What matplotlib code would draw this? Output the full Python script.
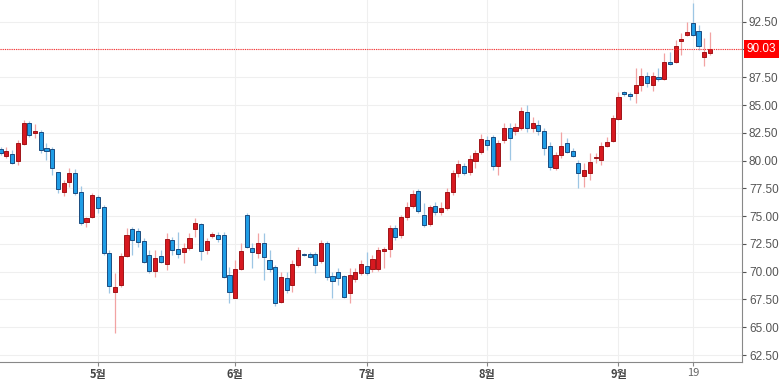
import numpy as np
import matplotlib
matplotlib.use("Agg")
import matplotlib.pyplot as plt

plt.rcParams['font.family'] = ['Liberation Sans', 'Noto Sans CJK KR', 'DejaVu Sans']

# daily candles (open, high, low, close)
opens = [81.05, 80.45, 80.55, 79.95, 81.5, 83.35, 82.45, 82.55, 81.1, 81.0,
         78.95, 77.2, 78.05, 78.85, 77.15, 74.45, 74.95, 76.7, 75.85, 71.65,
         68.2, 68.8, 71.45, 73.8, 73.7, 72.8, 71.5, 70.05, 71.4, 70.7,
         72.85, 72.0, 71.75, 72.15, 73.85, 74.3, 71.95, 73.2, 73.3, 73.3,
         69.7, 67.65, 70.2, 75.1, 72.1, 71.65, 72.6, 71.05, 70.4, 67.3,
         69.4, 68.8, 70.6, 71.6, 71.55, 71.55, 70.95, 72.55, 69.6, 69.95,
         69.6, 68.1, 69.3, 69.9, 70.5, 70.2, 70.25, 71.9, 72.0, 73.95,
         73.3, 74.9, 75.9, 77.25, 75.1, 74.3, 75.95, 75.4, 75.75, 77.15,
         78.9, 79.5, 79.0, 80.0, 80.75, 81.85, 82.1, 79.55, 81.85, 82.9,
         82.65, 82.95, 84.4, 82.9, 83.2, 82.65, 81.35, 79.35, 80.5, 81.55,
         80.9, 79.75, 78.65, 78.9, 80.2, 80.05, 81.3, 81.8, 83.75, 86.15,
         86.0, 86.1, 86.8, 87.6, 86.8, 87.55, 87.35, 88.85, 88.85, 90.8,
         91.3, 92.35, 91.65, 89.35, 89.7]
highs = [81.2, 81.25, 80.95, 81.85, 83.65, 83.6, 83.3, 82.75, 81.55, 81.25,
         79.0, 78.25, 79.3, 79.2, 77.7, 74.95, 77.05, 76.9, 76.0, 71.95,
         69.85, 71.65, 73.9, 74.05, 73.9, 73.0, 71.95, 71.95, 71.95, 73.45,
         73.15, 73.6, 72.55, 73.45, 74.8, 74.35, 73.0, 73.55, 73.6, 73.6,
         70.45, 71.05, 72.55, 75.25, 72.55, 73.45, 73.45, 71.95, 70.6, 70.0,
         70.0, 71.05, 72.2, 71.7, 71.8, 71.8, 72.85, 72.75, 70.0, 70.3,
         69.7, 70.3, 70.3, 71.05, 71.8, 71.5, 72.2, 72.2, 74.2, 74.2,
         75.1, 76.3, 77.35, 77.4, 76.15, 76.0, 76.3, 76.3, 77.5, 79.15,
         80.05, 79.8, 80.5, 80.95, 82.35, 82.25, 82.3, 81.85, 83.35, 83.35,
         83.35, 84.85, 85.0, 83.95, 83.65, 82.9, 81.7, 80.8, 82.6, 82.0,
         81.1, 80.05, 79.75, 80.65, 80.65, 81.7, 82.1, 84.1, 86.2, 86.3,
         86.2, 88.3, 88.3, 88.0, 88.0, 88.3, 89.65, 89.8, 90.85, 91.45,
         92.5, 94.15, 92.2, 91.0, 91.55]
lows = [80.5, 80.2, 79.7, 79.6, 81.4, 82.15, 82.0, 80.7, 80.05, 78.7,
        77.05, 76.8, 77.65, 76.9, 74.2, 74.05, 74.8, 75.25, 71.5, 68.1,
        64.45, 68.65, 71.35, 71.5, 72.2, 70.75, 69.9, 69.55, 70.75, 70.15,
        71.5, 71.2, 70.75, 71.95, 73.15, 71.05, 71.6, 73.05, 72.7, 69.4,
        67.15, 67.6, 70.15, 72.1, 70.3, 71.2, 69.25, 70.0, 66.95, 67.15,
        68.05, 68.2, 70.45, 71.4, 71.2, 69.85, 70.75, 69.25, 67.6, 68.8,
        67.6, 67.2, 69.1, 69.7, 69.7, 70.0, 70.1, 70.3, 71.35, 72.85,
        73.0, 74.65, 75.7, 75.3, 74.05, 74.1, 75.1, 75.1, 75.55, 76.9,
        78.55, 78.7, 78.7, 79.3, 80.55, 80.95, 79.15, 78.7, 81.55, 80.05,
        82.3, 82.75, 82.6, 82.55, 82.3, 80.5, 79.15, 79.15, 80.2, 80.65,
        80.35, 77.5, 77.65, 78.25, 79.75, 79.6, 81.25, 81.7, 83.65, 85.8,
        85.45, 85.15, 86.3, 86.6, 86.3, 87.2, 87.25, 88.6, 88.75, 89.5,
        91.2, 91.2, 89.95, 88.5, 89.5]
closes = [80.7, 80.85, 79.8, 81.6, 83.35, 82.3, 82.65, 80.95, 80.9, 79.3,
          77.4, 78.0, 78.85, 77.1, 74.35, 74.85, 76.9, 75.75, 71.7, 68.75,
          68.65, 71.4, 73.3, 72.85, 72.65, 70.9, 70.1, 71.25, 70.9, 72.95,
          71.95, 71.6, 72.1, 73.05, 74.4, 71.9, 72.8, 73.35, 72.9, 69.55,
          68.2, 70.2, 71.85, 72.25, 71.75, 72.6, 71.35, 70.25, 67.15, 69.55,
          68.35, 70.7, 71.95, 71.5, 71.35, 70.6, 72.6, 69.55, 69.2, 69.4,
          67.75, 69.7, 69.95, 70.7, 69.85, 71.15, 71.95, 72.0, 73.95, 73.1,
          74.9, 75.85, 76.95, 75.5, 74.2, 75.85, 75.4, 75.7, 77.15, 78.85,
          79.7, 78.85, 80.15, 80.7, 81.9, 81.4, 79.55, 81.6, 82.9, 82.05,
          83.0, 84.5, 82.9, 83.35, 82.65, 81.1, 79.45, 80.5, 81.35, 80.8,
          80.45, 78.9, 79.15, 79.9, 80.28, 81.3, 81.7, 83.8, 85.7, 85.95,
          85.85, 86.8, 87.6, 87.0, 87.6, 87.35, 88.9, 88.65, 90.3, 90.9,
          91.6, 91.3, 90.35, 89.8, 90.03]

tick_pos = [17, 41, 64, 85, 108, 121]
tick_labels = ["5월", "6월", "7월", "8월", "9월", "19"]
y_ticks = np.arange(62.5, 92.51, 2.5)
last_price = 90.03

o = np.array(opens)
h = np.array(highs)
l = np.array(lows)
c = np.array(closes)
x = np.arange(len(o))
up = c >= o

fig = plt.figure(figsize=(7.8, 3.81), dpi=100)
ax = fig.add_axes([0, 19 / 381, 742 / 780, 362 / 381])

# wicks
ax.vlines(x[up], l[up], h[up], color="#f2a3a3", lw=0.9, zorder=2)
ax.vlines(x[~up], l[~up], h[~up], color="#9dc6e4", lw=0.9, zorder=2)

# bodies
body_bottom = np.minimum(o, c)
body_h = np.maximum(np.abs(c - o), 0.1)
ax.bar(x[up], body_h[up], bottom=body_bottom[up], width=0.72,
       color="#d71920", edgecolor="#a01418", linewidth=0.7, zorder=3)
ax.bar(x[~up], body_h[~up], bottom=body_bottom[~up], width=0.72,
       color="#1f9de6", edgecolor="#1b4c80", linewidth=0.7, zorder=3)

# last price line + label (covers the 90.00 tick label, as in the source)
ax.axhline(last_price, color="#ff2a2a", lw=0.8, ls=(0, (1, 1)), zorder=4)
ax.text(1.006, last_price, "%.2f" % last_price, transform=ax.get_yaxis_transform(),
        ha="left", va="center", color="white", fontsize=8.5, clip_on=False,
        bbox=dict(boxstyle="square,pad=0.25", fc="#ff0000", ec="none"))

ax.set_xlim(-0.12, 129.6)
ax.set_ylim(61.87, 94.45)

ax.yaxis.tick_right()
ax.set_yticks(y_ticks)
ax.set_yticklabels(["" if abs(v - 90) < 0.01 else "%.2f" % v for v in y_ticks])
ax.set_xticks(tick_pos)
ax.set_xticklabels(tick_labels)

ax.tick_params(axis="y", colors="#555555", labelsize=8.5, length=3, width=0.8, pad=2)
ax.tick_params(axis="x", colors="#888888", labelcolor="#444444", labelsize=8, length=3, width=0.8, pad=1)
for lab in ax.get_xticklabels():
    lab.set_family(['Noto Sans CJK KR', 'DejaVu Sans'])
    if lab.get_text() != "19":
        lab.set_fontweight("bold")
    else:
        lab.set_color("#666666")

ax.grid(True, color="#efefef", lw=0.8, zorder=0)
ax.set_axisbelow(True)

for side in ["top", "left"]:
    ax.spines[side].set_visible(False)
ax.spines["right"].set_color("#888888")
ax.spines["bottom"].set_color("#888888")

fig.savefig("out.png", dpi=100)
